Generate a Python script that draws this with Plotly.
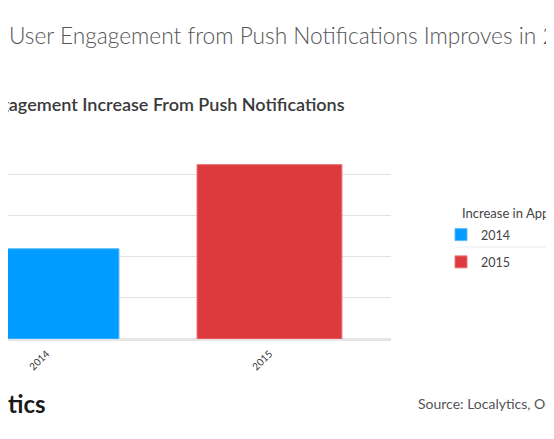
import plotly.graph_objects as go

years = ["2014", "2015"]
increase = [44, 85]
colors = ["#009cff", "#dc3a3d"]
edge_colors = ["#5bbcff", "#e87a7b"]

title = "App User Engagement from Push Notifications Improves in 2015"
subtitle = "App Engagement Increase From Push Notifications"
legend_title = "Increase in App Engagement"
source = "Source: Localytics, October 2015"
logo = "Localytics"

# the page body has an 8px margin, so the figure is drawn 8px in
OFF = 8
W, H = 554 - OFF, 439 - OFF
L, R, T, B = 0, 163, 132, 100
pw = W - L - R
ph = H - T - B


def px(x):
    # x in window pixels -> paper units
    return (x - OFF - L) / pw


def py(y):
    return (H - B - (y - OFF)) / ph


fig = go.Figure()
for yr, val, c, ec in zip(years, increase, colors, edge_colors):
    fig.add_trace(go.Bar(
        x=[yr], y=[val], name=yr, width=0.65,
        marker=dict(color=c, line=dict(color=ec, width=1)),
        legendgroup=yr,
    ))

fig.update_layout(
    width=W, height=H,
    margin=dict(l=L, r=R, t=T, b=B, autoexpand=False),
    paper_bgcolor="white", plot_bgcolor="white",
    barmode="overlay",
    font=dict(family="Lato, sans-serif", color="#444"),
    showlegend=True,
    legend=dict(
        x=px(441), xanchor="left", y=py(220), yanchor="top",
        font=dict(size=12.5, color="#444"),
        traceorder="grouped", tracegroupgap=8,
        itemwidth=30, bgcolor="rgba(0,0,0,0)",
    ),
    xaxis=dict(
        type="category", range=[-0.1726, 1.545],
        tickangle=-45, tickfont=dict(size=10, color="#333"),
        ticklabelstandoff=6,
        showgrid=False, showline=False, ticks="",
    ),
    yaxis=dict(
        range=[0, 97], dtick=20, showticklabels=False,
        showgrid=True, gridcolor="#e6e1e0", gridwidth=1.2,
        zeroline=True, zerolinecolor="#e6e4e4", zerolinewidth=2.5,
    ),
)

fig.add_shape(type="line", xref="paper", yref="paper",
              x0=px(457), x1=px(560), y0=py(247), y1=py(247),
              line=dict(color="#ebebeb", width=1))

fig.add_annotation(text=legend_title, xref="paper", yref="paper",
                   x=px(460), y=py(213), xanchor="left", yanchor="middle",
                   showarrow=False, font=dict(size=13, color="#444"))
fig.add_annotation(text=title, xref="paper", yref="paper",
                   x=px(-39), y=py(36), xanchor="left", yanchor="middle",
                   showarrow=False, font=dict(size=22.7, color="#555", weight=300))
fig.add_annotation(text=subtitle, xref="paper", yref="paper",
                   x=px(347), y=py(104), xanchor="right", yanchor="middle",
                   showarrow=False, font=dict(size=18, color="#3a3a3a", weight=600))
fig.add_annotation(text=logo, xref="paper", yref="paper",
                   x=px(48), y=py(403), xanchor="right", yanchor="middle",
                   showarrow=False, font=dict(size=24, color="#1a1a1a", weight=700))
fig.add_annotation(text=source, xref="paper", yref="paper",
                   x=px(416), y=py(403), xanchor="left", yanchor="middle",
                   showarrow=False, font=dict(size=14, color="#555"))

fig.write_html("out.html")
